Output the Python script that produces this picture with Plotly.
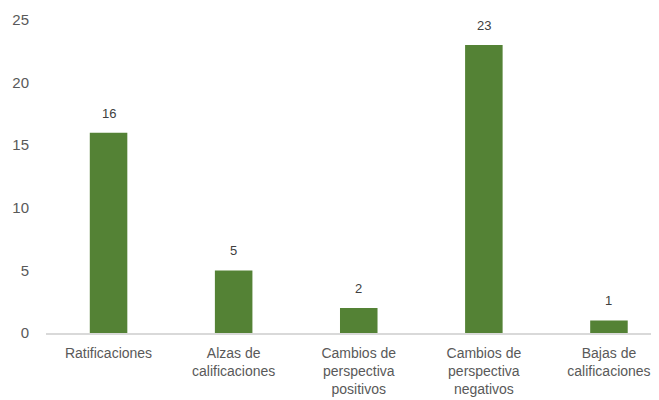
import plotly.graph_objects as go

categories = ["Ratificaciones", "Alzas de<br>calificaciones", "Cambios de<br>perspectiva<br>positivos",
              "Cambios de<br>perspectiva<br>negativos", "Bajas de<br>calificaciones"]
values = [16, 5, 2, 23, 1]
y_ticks = [0, 5, 10, 15, 20, 25]

FONT = "Liberation Sans, Arial, sans-serif"
GRAY = "#595959"

fig = go.Figure()
fig.add_trace(go.Bar(
    x=categories, y=values, width=0.3,
    marker=dict(color="#548235", line=dict(width=0)),
    hoverinfo="skip",
))

for c, v in zip(categories, values):
    fig.add_annotation(x=c, y=v, text=str(v), showarrow=False,
                       yanchor="bottom", yshift=10,
                       font=dict(family=FONT, size=13, color="#404040"))

# page body has an 8px default margin; margins compensate for it
fig.update_layout(
    width=659, height=400,
    margin=dict(l=38, r=8, t=12, b=75),
    paper_bgcolor="white", plot_bgcolor="white",
    showlegend=False,
    font=dict(family=FONT, size=14, color=GRAY),
)
fig.update_xaxes(
    range=[-0.5, 4.4], showgrid=False, zeroline=False, automargin=False,
    showline=True, linecolor="#d9d9d9", linewidth=1.5,
    ticks="", ticklabelstandoff=6,
    tickfont=dict(family=FONT, size=14, color=GRAY),
)
fig.update_yaxes(
    range=[0, 25], tickvals=y_ticks, showgrid=False, zeroline=False, automargin=False,
    showline=False, ticks="", ticklabelstandoff=16,
    tickfont=dict(family=FONT, size=15, color=GRAY),
)

fig.write_html("out.html")
